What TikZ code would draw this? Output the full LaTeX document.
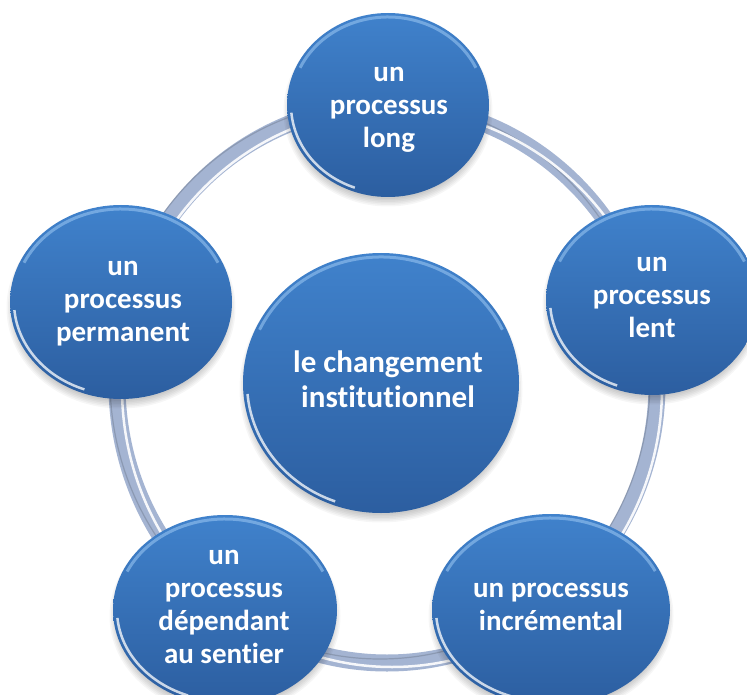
\documentclass[tikz,border=0pt]{standalone}
\usepackage{fontspec}
\setmainfont{Carlito}[Ligatures=NoCommon]
\usetikzlibrary{shapes.geometric,calc}
\definecolor{bubtop}{RGB}{64,130,204}
\definecolor{bubbot}{RGB}{44,94,160}
\definecolor{ringcol}{RGB}{164,180,210}
\definecolor{rimcol}{RGB}{150,195,240}
\tikzset{
  bubble/.style={ellipse, inner sep=0pt, top color=bubtop, bottom color=bubbot, draw=none},
  bubtext/.style={text=white, font=\bfseries\fontsize{29}{33}\selectfont, align=center, inner sep=0pt},
  bigtext/.style={bubtext, font=\bfseries\fontsize{31}{35}\selectfont},
  softshade/.style={fill=black, opacity=0.035},
  ringband/.style={line width=17pt, draw=ringcol},
}
\newcommand\mybub[5]{%
  \foreach \k in {0,...,5}{\fill[softshade] (#2,#3+6) ellipse [x radius=#4-4+\k*1.5, y radius=#5-4+\k*1.5];}
  \node[bubble, minimum width=2*#4, minimum height=2*#5] (#1) at (#2,#3) {};
  \draw[rimcol, opacity=.6, line width=3pt] ({#2+(#4-4)*cos(205)},{#3+(#5-4)*sin(205)}) arc[start angle=205, end angle=335, x radius=#4-4, y radius=#5-4];
  \draw[white, opacity=.75, line width=2.5pt] ({#2+(#4-4)*cos(110)},{#3+(#5-4)*sin(110)}) arc[start angle=110, end angle=175, x radius=#4-4, y radius=#5-4];
}
\begin{document}
\begin{tikzpicture}[x=1pt,y=-1pt]
\useasboundingbox[fill=white] (0,0) rectangle (747,695);
% ring
\coordinate (ringc) at (387,384);
\draw[ringband] (ringc) ellipse [x radius=270, y radius=279];
\draw[black, opacity=.15, line width=1.2pt] ($(ringc)+(-7,-4)$) ellipse [x radius=270, y radius=279];
\draw[white, opacity=.9, line width=2.5pt] ($(ringc)+(5,4)$) ellipse [x radius=270, y radius=279];
% bubbles
\mybub{n1}{388}{105}{101}{92}
\mybub{n2}{652}{300}{106}{95}
\mybub{n3}{551}{610}{119}{96}
\mybub{n4}{225}{610}{112}{95}
\mybub{n5}{121}{302}{111}{97}
\mybub{c}{381}{383}{138}{130}
% texts
\node[bigtext] (ct) at (388,379) {le changement\\institutionnel};
\node[bubtext] (n1t) at (389,110) {un\\processus\\long};
\node[bubtext] (n2t) at (652,297) {un\\processus\\lent};
\node[bubtext] (n3t) at (551,607) {un processus\\incrémental};
\node[bubtext] (n4t) at (224,607) {un\\processus\\dépendant\\au sentier};
\node[bubtext] (n5t) at (123,304) {un\\processus\\permanent};
\end{tikzpicture}
\end{document}
